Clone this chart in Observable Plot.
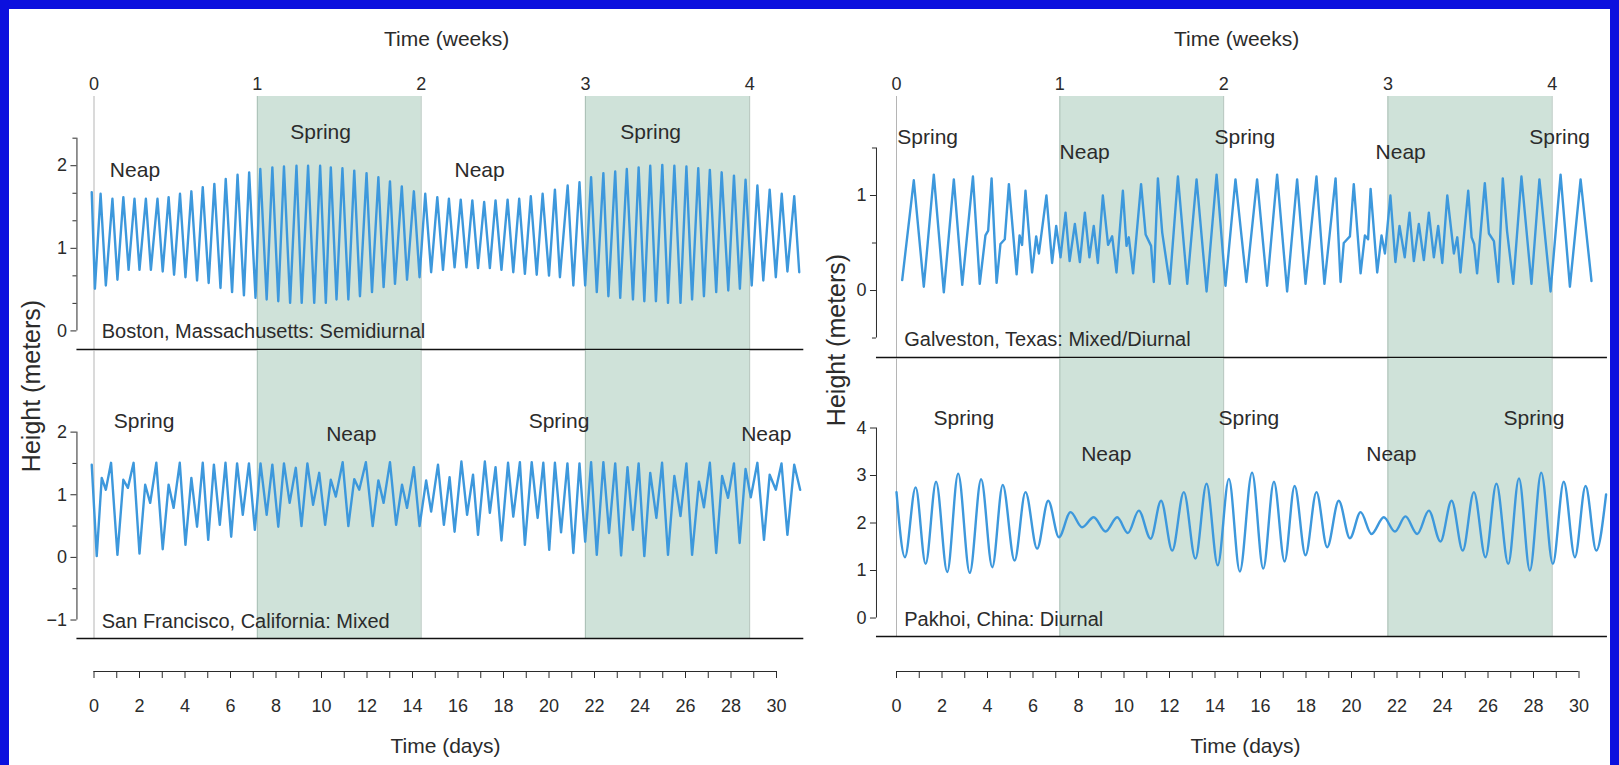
<!DOCTYPE html>
<html><head><meta charset="utf-8">
<script src="https://cdn.jsdelivr.net/npm/d3@7"></script>
<script src="https://cdn.jsdelivr.net/npm/@observablehq/plot@0.6"></script>
<style>
html,body{margin:0;padding:0;}
body{width:1619px;height:765px;background:#0c10de;position:relative;overflow:hidden;font-family:"Liberation Sans",Arial,Helvetica,sans-serif;}
#sheet{position:absolute;left:9px;top:9px;width:1601px;height:770px;background:#fff;}
.ylab{position:absolute;font-size:25px;color:#2b2b2b;white-space:nowrap;transform:translate(-50%,-50%) rotate(-90deg);}
svg{position:absolute;overflow:visible;}
</style></head><body><div id="sheet"></div>
<script>
const LINE = "#3d98dc", BAND = "#cfe2d9", INK = "#2b2b2b";
const FONT = "'Liberation Sans', Arial, Helvetica, sans-serif";

// axes
const weekNumbers = [0, 1, 2, 3, 4];
const weekDays = [0, 7.18, 14.38, 21.6, 28.82];
const springStart = [7.18, 21.6];
const springEnd = [14.38, 28.82];
const dayTicks = [0,1,2,3,4,5,6,7,8,9,10,11,12,13,14,15,16,17,18,19,20,21,22,23,24,25,26,27,28,29,30];
const dayLabels = [0,2,4,6,8,10,12,14,16,18,20,22,24,26,28,30];

// [day, height m]
const bostonTide = [[-0.10,1.68],[0.04,0.51],[0.29,1.66],[0.52,0.55],[0.81,1.60],[1.03,0.62],[1.29,1.62],[1.52,0.74],[1.78,1.60],[2.00,0.74],[2.28,1.60],[2.50,0.74],[2.79,1.60],[3.02,0.72],[3.28,1.62],[3.52,0.68],[3.78,1.66],[4.02,0.65],[4.28,1.69],[4.53,0.61],[4.78,1.74],[5.04,0.58],[5.29,1.78],[5.56,0.52],[5.79,1.84],[6.07,0.47],[6.31,1.89],[6.59,0.43],[6.82,1.92],[7.10,0.40],[7.31,1.96],[7.59,0.38],[7.84,1.98],[8.10,0.36],[8.35,1.99],[8.62,0.34],[8.90,2.00],[9.13,0.34],[9.41,2.00],[9.68,0.34],[9.94,2.00],
[10.19,0.34],[10.41,1.98],[10.66,0.38],[10.92,1.97],[11.18,0.38],[11.44,1.94],[11.69,0.42],[11.98,1.91],[12.22,0.47],[12.50,1.86],[12.73,0.53],[13.01,1.81],[13.23,0.57],[13.53,1.75],[13.76,0.62],[14.06,1.69],[14.31,0.65],[14.56,1.66],[14.82,0.71],[15.09,1.62],[15.34,0.74],[15.60,1.60],[15.85,0.77],[16.12,1.59],[16.37,0.77],[16.63,1.58],[16.88,0.76],[17.15,1.56],[17.40,0.76],[17.65,1.58],[17.91,0.74],[18.18,1.59],[18.43,0.71],[18.69,1.60],[18.94,0.69],[19.20,1.63],[19.46,0.68],[19.72,1.66],[20.00,0.67],[20.26,1.71],[20.48,0.65],
[20.82,1.76],[21.07,0.55],[21.34,1.80],[21.59,0.55],[21.85,1.86],[22.10,0.47],[22.39,1.91],[22.61,0.42],[22.91,1.93],[23.13,0.40],[23.42,1.96],[23.69,0.38],[23.94,1.98],[24.19,0.36],[24.45,2.00],[24.70,0.36],[24.98,2.01],[25.23,0.34],[25.51,2.00],[25.78,0.34],[26.04,1.99],[26.29,0.38],[26.56,1.97],[26.81,0.42],[27.07,1.95],[27.35,0.47],[27.59,1.92],[27.88,0.49],[28.13,1.88],[28.39,0.51],[28.64,1.83],[28.91,0.55],[29.16,1.76],[29.42,0.61],[29.70,1.71],[29.97,0.65],[30.23,1.66],[30.48,0.72],[30.78,1.63],[31.00,0.71]];

const sanFranciscoTide = [[-0.10,1.48],[0.12,0.02],[0.34,1.27],[0.52,1.08],[0.75,1.51],[1.03,0.04],[1.29,1.24],[1.49,1.11],[1.74,1.51],[2.00,0.06],[2.25,1.16],[2.47,0.87],[2.74,1.51],[3.02,0.13],[3.28,1.16],[3.50,0.79],[3.77,1.51],[4.02,0.20],[4.28,1.27],[4.53,0.49],[4.78,1.51],[5.02,0.28],[5.27,1.48],[5.53,0.52],[5.78,1.51],[6.03,0.33],[6.29,1.50],[6.54,0.68],[6.81,1.50],[7.07,0.44],[7.32,1.50],[7.59,0.68],[7.84,1.48],[8.10,0.49],[8.35,1.50],[8.60,0.87],[8.87,1.43],[9.12,0.50],[9.38,1.50],[9.63,0.84],[9.90,1.35],[10.16,0.52],
[10.41,1.24],[10.63,0.97],[10.93,1.52],[11.18,0.50],[11.44,1.25],[11.66,1.08],[11.95,1.52],[12.25,0.50],[12.50,1.23],[12.73,0.87],[13.01,1.52],[13.28,0.52],[13.54,1.16],[13.76,0.79],[14.06,1.44],[14.31,0.50],[14.60,1.23],[14.82,0.73],[15.12,1.48],[15.38,0.52],[15.63,1.28],[15.85,0.41],[16.15,1.53],[16.40,0.68],[16.66,1.32],[16.88,0.36],[17.18,1.53],[17.40,0.71],[17.65,1.44],[17.91,0.27],[18.20,1.51],[18.43,0.65],[18.72,1.52],[18.94,0.20],[19.24,1.52],[19.50,0.63],[19.75,1.51],[20.01,0.12],[20.26,1.51],[20.53,0.40],
[20.81,1.50],[21.07,0.07],[21.34,1.50],[21.59,0.25],[21.85,1.52],[22.10,0.04],[22.39,1.52],[22.64,0.39],[22.91,1.50],[23.17,0.03],[23.45,1.44],[23.69,0.44],[23.94,1.50],[24.19,0.02],[24.45,1.35],[24.72,0.63],[24.97,1.51],[25.23,0.04],[25.51,1.30],[25.78,0.66],[26.04,1.50],[26.29,0.04],[26.59,1.21],[26.81,0.80],[27.07,1.51],[27.35,0.07],[27.61,1.30],[27.87,0.95],[28.13,1.50],[28.38,0.23],[28.64,1.41],[28.87,0.96],[29.16,1.51],[29.45,0.28],[29.70,1.32],[29.97,1.08],[30.22,1.50],[30.48,0.36],[30.78,1.48],[31.04,1.08]];

const galvestonTide = [[0.25,0.11],[0.76,1.16],[1.20,0.04],[1.64,1.22],[2.08,-0.02],[2.52,1.17],[2.89,0.06],[3.36,1.20],[3.66,0.07],[3.91,0.58],[4.03,0.63],[4.18,1.18],[4.40,0.08],[4.57,0.49],[4.76,0.54],[4.94,1.12],[5.28,0.17],[5.41,0.58],[5.52,0.48],[5.67,1.05],[5.96,0.19],[6.14,0.57],[6.26,0.39],[6.59,1.00],[6.84,0.29],[7.02,0.68],[7.21,0.35],[7.43,0.82],[7.61,0.31],[7.84,0.70],[8.06,0.30],[8.28,0.82],[8.48,0.35],[8.67,0.68],[8.85,0.29],[9.07,1.00],[9.30,0.48],[9.48,0.57],[9.67,0.19],[9.95,1.05],
[10.11,0.47],[10.21,0.56],[10.40,0.18],[10.75,1.12],[10.95,0.59],[11.19,0.47],[11.31,0.09],[11.49,1.18],[11.68,0.61],[12.01,0.07],[12.37,1.20],[12.78,0.07],[13.19,1.17],[13.63,-0.01],[14.07,1.22],[14.46,0.05],[14.90,1.17],[15.38,0.09],[15.85,1.17],[16.29,0.05],[16.73,1.22],[17.17,-0.01],[17.61,1.17],[17.98,0.07],[18.46,1.20],[18.81,0.07],[19.30,1.18],[19.52,0.09],[19.66,0.50],[19.93,0.57],[20.10,1.12],
[20.40,0.18],[20.59,0.58],[20.73,0.54],[20.84,1.07],[21.13,0.19],[21.32,0.58],[21.47,0.39],[21.71,1.00],[21.93,0.30],[22.11,0.68],[22.34,0.35],[22.55,0.82],[22.74,0.31],[22.96,0.70],[23.18,0.32],[23.40,0.82],[23.62,0.35],[23.81,0.68],[23.99,0.29],[24.21,1.00],[24.50,0.39],[24.65,0.56],[24.79,0.19],[25.13,1.05],[25.28,0.56],[25.39,0.49],[25.52,0.18],[25.86,1.13],[26.04,0.60],[26.26,0.52],[26.45,0.09],[26.65,1.18],[26.84,0.62],[27.11,0.07],[27.47,1.20],[27.91,0.07],[28.26,1.17],[28.75,-0.01],[29.19,1.22],[29.60,0.04],[30.07,1.17],[30.55,0.10]];

const pakhoiTide = [[0.00,2.65],[0.37,1.28],[0.84,2.75],[1.28,1.14],[1.74,2.87],[2.23,0.97],[2.71,3.04],[3.22,0.95],[3.72,2.92],[4.21,1.07],[4.67,2.80],[5.19,1.21],[5.67,2.65],[6.18,1.46],[6.67,2.47],[7.14,1.70],[7.65,2.23],[8.16,1.91],[8.67,2.12],[9.19,1.82],[9.70,2.12],[10.17,1.79],[10.65,2.26],[11.17,1.67],[11.63,2.47],[12.12,1.42],[12.63,2.65],[13.14,1.25],[13.63,2.83],[14.12,1.11],[14.61,2.93],[15.09,0.98],[15.63,3.06],[16.12,1.04],[16.59,2.87],[17.06,1.19],[17.50,2.78],[17.98,1.32],[18.46,2.65],[18.93,1.49],[19.44,2.47],[19.93,1.68],[20.40,2.23],[20.88,1.77],[21.42,2.12],[21.91,1.82],[22.37,2.14],[22.89,1.77],[23.40,2.26],[23.91,1.61],[24.40,2.47],[24.89,1.42],[25.38,2.65],[25.89,1.28],[26.37,2.83],[26.89,1.14],[27.36,2.94],[27.84,1.00],[28.34,3.06],[28.85,1.14],[29.33,2.87],[29.82,1.28],[30.29,2.78],[30.76,1.42],[31.19,2.60]];

// panel annotations
const bostonNotes = [{t:"Neap",day:1.8,h:1.95},{t:"Spring",day:9.96,h:2.41},{t:"Neap",day:16.95,h:1.95},{t:"Spring",day:24.47,h:2.41}];
const sanFranciscoNotes = [{t:"Spring",day:2.2,h:2.17},{t:"Neap",day:11.31,h:1.96},{t:"Spring",day:20.44,h:2.17},{t:"Neap",day:29.55,h:1.96}];
const galvestonNotes = [{t:"Spring",day:1.37,h:1.61},{t:"Neap",day:8.27,h:1.455},{t:"Spring",day:15.31,h:1.61},{t:"Neap",day:22.16,h:1.455},{t:"Spring",day:29.15,h:1.61}];
const pakhoiNotes = [{t:"Spring",day:2.96,h:4.2},{t:"Neap",day:9.22,h:3.44},{t:"Spring",day:15.49,h:4.2},{t:"Neap",day:21.75,h:3.44},{t:"Spring",day:28.02,h:4.2}];

const PXD = 22.75;
function column(svgLeft, width, day0, xDom, titleDay, daysTitleDay) {
  return {svgLeft, width, day0, xDom, titleDay, daysTitleDay,
    ml: day0 + xDom[0] * PXD - svgLeft,
    mr: width - (day0 + xDom[1] * PXD - svgLeft)};
}
const leftCol = column(0, 810, 93.5, [-0.75, 31.2], 15.5, 15.45);
const rightCol = column(810, 809, 896, [-0.88, 31.25], 14.95, 15.34);

const fmt = d => (d < 0 ? "\u2212" + Math.abs(d) : String(d));
const baseStyle = {fontFamily: FONT, fontSize: "18px", color: INK, background: "none", overflow: "visible"};
function place(svg, left, top) {
  svg.style.left = left + "px"; svg.style.top = top + "px";
  document.body.appendChild(svg);
}

function topAxis(col) {
  const svg = Plot.plot({
    width: col.width, height: 96, marginLeft: col.ml, marginRight: col.mr, marginTop: 0, marginBottom: 0,
    x: {domain: col.xDom, axis: null},
    style: baseStyle,
    marks: [
      Plot.text(weekNumbers, {x: (d, i) => weekDays[i], text: d => String(d), frameAnchor: "top", dy: 77, fill: INK, fontSize: 18}),
      Plot.text(["Time (weeks)"], {x: col.titleDay, text: d => d, frameAnchor: "top", dy: 31, fill: INK, fontSize: 21})
    ]
  });
  place(svg, col.svgLeft, 0);
}

function panel(col, top, height, yDom, tide, curve, yTicks, yMinor, axisSpan, notes, title, titleH) {
  const bands = springStart.map((s, i) => ({s, e: springEnd[i]}));
  const svg = Plot.plot({
    width: col.width, height, marginLeft: col.ml, marginRight: col.mr, marginTop: 0, marginBottom: 1,
    x: {domain: col.xDom, axis: null},
    y: {domain: yDom, axis: null},
    style: baseStyle,
    marks: [
      Plot.rect(bands, {x1: "s", x2: "e", y1: () => yDom[0], y2: () => yDom[1], fill: BAND}),
      Plot.ruleX(bands, {x: "s", stroke: "#9fb5ab", strokeWidth: 0.8}),
      Plot.ruleX(bands, {x: "e", stroke: "#9fb5ab", strokeWidth: 0.8}),
      Plot.ruleX([0], {stroke: "#b5b5b5", strokeWidth: 1}),
      Plot.ruleX([col.xDom[0]], {y1: axisSpan[0], y2: axisSpan[1], stroke: INK, strokeWidth: 1}),
      Plot.axisY({ticks: yTicks, anchor: "left", tickSize: 6, tickPadding: 4, tickFormat: fmt, label: null, fill: INK, stroke: INK, fontSize: 18}),
      Plot.axisY({ticks: yMinor, anchor: "left", tickSize: 4, tickFormat: () => "", label: null, stroke: INK}),
      Plot.line(tide, {x: d => d[0], y: d => d[1], stroke: LINE, strokeWidth: 2.4, curve, strokeLinejoin: "round"}),
      Plot.text(notes, {x: "day", y: "h", text: "t", fill: INK, fontSize: 21}),
      Plot.text([title], {x: 0.34, y: () => titleH, text: d => d, textAnchor: "start", fill: INK, fontSize: 20}),
      Plot.ruleY([yDom[0]], {stroke: "#111", strokeWidth: 1.3})
    ]
  });
  place(svg, col.svgLeft, top);
}

function bottomAxis(col) {
  const svg = Plot.plot({
    width: col.width, height: 119,
    marginLeft: col.day0 - col.svgLeft, marginRight: col.width - (col.day0 + 30 * PXD - col.svgLeft),
    marginTop: 33, marginBottom: 79,
    x: {domain: [0, 30], axis: null},
    y: {domain: [0, 1], axis: null},
    style: baseStyle,
    marks: [
      Plot.ruleY([1], {stroke: INK, strokeWidth: 1}),
      Plot.tickX(dayTicks, {x: d => d, stroke: INK, strokeWidth: 1}),
      Plot.text(dayLabels, {x: d => d, text: d => String(d), frameAnchor: "top", dy: 28, fill: INK, fontSize: 18}),
      Plot.text(["Time (days)"], {x: col.daysTitleDay, text: d => d, frameAnchor: "top", dy: 67, fill: INK, fontSize: 21})
    ]
  });
  place(svg, col.svgLeft, 638);
}

// left column
topAxis(leftCol);
panel(leftCol, 96, 254, [-0.225, 2.838], bostonTide, "linear", [0, 1, 2], [1/3, 2/3, 4/3, 5/3, 7/3], [0, 7/3], bostonNotes, "Boston, Massachusetts: Semidiurnal", -0.01);
panel(leftCol, 350, 289, [-1.295, 3.303], sanFranciscoTide, "linear", [-1, 0, 1, 2], [-0.5, 0.5, 1.5], [-1, 2], sanFranciscoNotes, "San Francisco, California: Mixed", -1.02);
bottomAxis(leftCol);

// right column
topAxis(rightCol);
panel(rightCol, 96, 262, [-0.705, 2.042], galvestonTide, "linear", [0, 1], [-0.5, 0.5, 1.5], [-0.5, 1.5], galvestonNotes, "Galveston, Texas: Mixed/Diurnal", -0.52);
panel(rightCol, 358, 279, [-0.389, 5.463], pakhoiTide, "monotone-x", [0, 1, 2, 3, 4], [], [0, 4], pakhoiNotes, "Pakhoi, China: Diurnal", -0.04);
bottomAxis(rightCol);

// shared y titles
for (const [x, y] of [[31, 386], [836, 340]]) {
  const d = document.createElement("div");
  d.className = "ylab"; d.textContent = "Height (meters)";
  d.style.left = x + "px"; d.style.top = y + "px";
  document.body.appendChild(d);
}
</script></body></html>
